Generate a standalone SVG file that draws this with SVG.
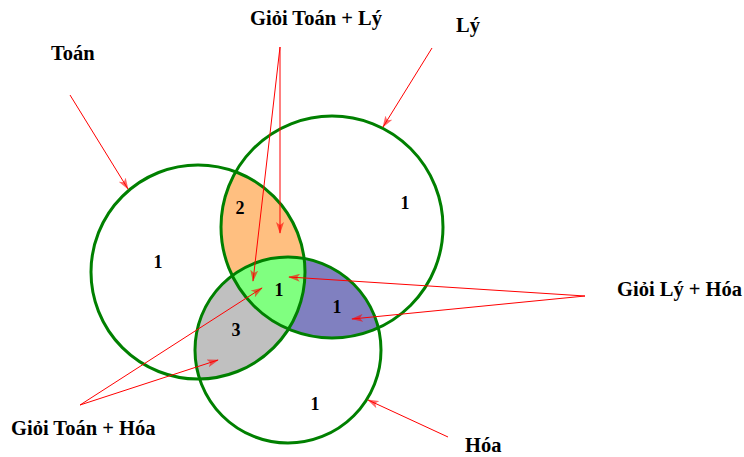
<svg xmlns="http://www.w3.org/2000/svg" width="744" height="457" viewBox="0 0 744 457">
<style>
.set{fill:none;stroke:#008000;stroke-width:3}
.num{font-family:"Liberation Serif",serif;font-weight:bold;font-size:18px;fill:#000;text-anchor:middle}
.lbl{font-family:"Liberation Serif",serif;font-weight:bold;font-size:20.5px;fill:#000}
.arr{stroke:#ff0000;stroke-width:1;fill:none;marker-end:url(#ah)}
</style>
<defs>
<marker id="ah" viewBox="0 0 12 8" refX="11" refY="4" markerWidth="12" markerHeight="8" markerUnits="userSpaceOnUse" orient="auto">
<path d="M0,0 L12,4 L0,8 L3,4 z" fill="#ff0000" fill-opacity="0.6"/>
</marker>
<clipPath id="cT"><circle cx="198" cy="272" r="107"/></clipPath>
<clipPath id="cL"><circle cx="332" cy="227" r="111"/></clipPath>
<clipPath id="cH"><circle cx="288" cy="350" r="93"/></clipPath>
</defs>
<rect width="744" height="457" fill="#fff"/>
<g id="regions">
<circle cx="332" cy="227" r="111" fill="#ffbf80" clip-path="url(#cT)"/>
<circle cx="288" cy="350" r="93" fill="#c0c0c0" clip-path="url(#cT)"/>
<circle cx="288" cy="350" r="93" fill="#8080c0" clip-path="url(#cL)"/>
<g clip-path="url(#cL)"><circle cx="288" cy="350" r="93" fill="#80ff80" clip-path="url(#cT)"/></g>
</g>
<g id="toan"><circle class="set" cx="198" cy="272" r="107"/><text class="num" x="158" y="268">1</text></g>
<g id="ly"><circle class="set" cx="332" cy="227" r="111"/><text class="num" x="405" y="209">1</text></g>
<g id="hoa"><circle class="set" cx="288" cy="350" r="93"/><text class="num" x="315" y="410">1</text></g>
<g id="toan-ly"><text class="num" x="240" y="214">2</text></g>
<g id="all"><text class="num" x="279" y="296">1</text></g>
<g id="ly-hoa"><text class="num" x="337" y="313">1</text></g>
<g id="toan-hoa"><text class="num" x="236" y="336">3</text></g>
<g id="connectors">
<line class="arr" x1="70" y1="95" x2="128" y2="189"/>
<line class="arr" x1="432" y1="48" x2="383" y2="127"/>
<line class="arr" x1="280" y1="47" x2="280" y2="233"/>
<line class="arr" x1="280" y1="47" x2="253" y2="281"/>
<line class="arr" x1="585" y1="296" x2="289" y2="277"/>
<line class="arr" x1="585" y1="296" x2="352" y2="319"/>
<line class="arr" x1="80" y1="405" x2="262" y2="288"/>
<line class="arr" x1="80" y1="405" x2="218" y2="360"/>
<line class="arr" x1="448" y1="437" x2="368" y2="400"/>
</g>
<g id="labels">
<text class="lbl" x="51" y="60">Toán</text>
<text class="lbl" x="250" y="25">Giỏi Toán + Lý</text>
<text class="lbl" x="456" y="32">Lý</text>
<text class="lbl" x="617" y="296">Giỏi Lý + Hóa</text>
<text class="lbl" x="11" y="435">Giỏi Toán + Hóa</text>
<text class="lbl" x="465" y="452">Hóa</text>
</g>
</svg>
